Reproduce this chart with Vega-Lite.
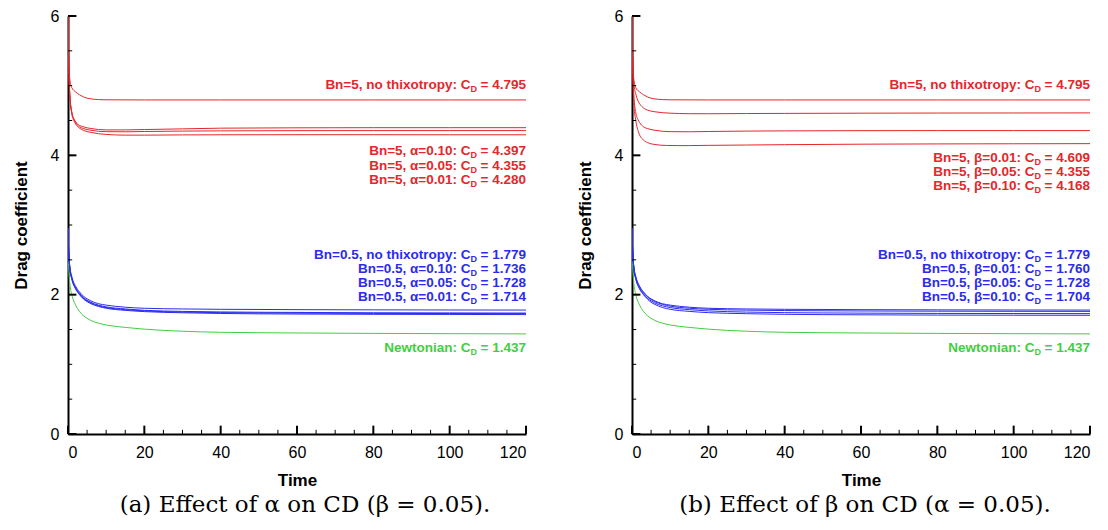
{
  "$schema": "https://vega.github.io/schema/vega-lite/v6.json",
  "background": "white",
  "padding": {"left": 12, "top": 8, "right": 0, "bottom": 0},
  "bounds": "flush",
  "spacing": 106,
  "config": {
    "view": {"stroke": null},
    "axis": {"ticks": false, "grid": false, "domainColor": "black", "domainWidth": 2, "labelColor": "black", "titleColor": "black",
      "labelFont": "Liberation Sans", "labelFontSize": 16, "titleFont": "Liberation Sans", "titleFontSize": 17, "titleFontWeight": "bold", "labelOverlap": false}
  },
  "datasets": {
    "xmajor": [{"t":0},{"t":20},{"t":40},{"t":60},{"t":80},{"t":100},{"t":120}],
    "xminor": [{"t":5},{"t":10},{"t":15},{"t":25},{"t":30},{"t":35},{"t":45},{"t":50},{"t":55},{"t":65},{"t":70},{"t":75},{"t":85},{"t":90},{"t":95},{"t":105},{"t":110},{"t":115}],
    "ymajor": [{"v":0},{"v":2},{"v":4},{"v":6}],
    "yminor": [{"v":0.5},{"v":1},{"v":1.5},{"v":2.5},{"v":3},{"v":3.5},{"v":4.5},{"v":5},{"v":5.5}],
    "curves": [
      {"s":"r0","k":"Bn=5","t":0,"v":6},{"s":"r0","k":"Bn=5","t":0.2,"v":5.4},{"s":"r0","k":"Bn=5","t":0.5,"v":5.08},{"s":"r0","k":"Bn=5","t":1,"v":4.97},{"s":"r0","k":"Bn=5","t":2,"v":4.91},{"s":"r0","k":"Bn=5","t":3,"v":4.87},{"s":"r0","k":"Bn=5","t":4,"v":4.84},{"s":"r0","k":"Bn=5","t":5,"v":4.82},{"s":"r0","k":"Bn=5","t":6,"v":4.81},{"s":"r0","k":"Bn=5","t":8,"v":4.8},{"s":"r0","k":"Bn=5","t":10,"v":4.797},{"s":"r0","k":"Bn=5","t":20,"v":4.795},{"s":"r0","k":"Bn=5","t":40,"v":4.795},{"s":"r0","k":"Bn=5","t":60,"v":4.795},{"s":"r0","k":"Bn=5","t":80,"v":4.795},{"s":"r0","k":"Bn=5","t":100,"v":4.795},{"s":"r0","k":"Bn=5","t":120,"v":4.795},

      {"s":"b0","k":"Bn=0.5","t":0,"v":2.95},{"s":"b0","k":"Bn=0.5","t":0.2,"v":2.6},{"s":"b0","k":"Bn=0.5","t":0.5,"v":2.4},{"s":"b0","k":"Bn=0.5","t":1,"v":2.26},{"s":"b0","k":"Bn=0.5","t":2,"v":2.12},{"s":"b0","k":"Bn=0.5","t":3,"v":2.04},{"s":"b0","k":"Bn=0.5","t":4,"v":1.98},{"s":"b0","k":"Bn=0.5","t":5,"v":1.94},{"s":"b0","k":"Bn=0.5","t":6,"v":1.91},{"s":"b0","k":"Bn=0.5","t":8,"v":1.87},{"s":"b0","k":"Bn=0.5","t":10,"v":1.85},{"s":"b0","k":"Bn=0.5","t":15,"v":1.82},{"s":"b0","k":"Bn=0.5","t":20,"v":1.805},{"s":"b0","k":"Bn=0.5","t":30,"v":1.795},{"s":"b0","k":"Bn=0.5","t":40,"v":1.79},{"s":"b0","k":"Bn=0.5","t":60,"v":1.785},{"s":"b0","k":"Bn=0.5","t":80,"v":1.782},{"s":"b0","k":"Bn=0.5","t":100,"v":1.78},{"s":"b0","k":"Bn=0.5","t":120,"v":1.779},

      {"s":"g","k":"Newtonian","t":0,"v":2.62},{"s":"g","k":"Newtonian","t":0.2,"v":2.35},{"s":"g","k":"Newtonian","t":0.5,"v":2.15},{"s":"g","k":"Newtonian","t":1,"v":2.0},{"s":"g","k":"Newtonian","t":2,"v":1.85},{"s":"g","k":"Newtonian","t":3,"v":1.76},{"s":"g","k":"Newtonian","t":4,"v":1.7},{"s":"g","k":"Newtonian","t":5,"v":1.66},{"s":"g","k":"Newtonian","t":6,"v":1.63},{"s":"g","k":"Newtonian","t":8,"v":1.59},{"s":"g","k":"Newtonian","t":10,"v":1.565},{"s":"g","k":"Newtonian","t":15,"v":1.53},{"s":"g","k":"Newtonian","t":20,"v":1.505},{"s":"g","k":"Newtonian","t":30,"v":1.475},{"s":"g","k":"Newtonian","t":40,"v":1.46},{"s":"g","k":"Newtonian","t":60,"v":1.45},{"s":"g","k":"Newtonian","t":80,"v":1.444},{"s":"g","k":"Newtonian","t":100,"v":1.44},{"s":"g","k":"Newtonian","t":120,"v":1.437},

      {"s":"ra10","k":"Bn=5","t":0,"v":6},{"s":"ra10","k":"Bn=5","t":0.2,"v":5.3},{"s":"ra10","k":"Bn=5","t":0.5,"v":4.85},{"s":"ra10","k":"Bn=5","t":1,"v":4.62},{"s":"ra10","k":"Bn=5","t":1.6,"v":4.52},{"s":"ra10","k":"Bn=5","t":2,"v":4.48},{"s":"ra10","k":"Bn=5","t":3,"v":4.43},{"s":"ra10","k":"Bn=5","t":4,"v":4.41},{"s":"ra10","k":"Bn=5","t":5,"v":4.395},{"s":"ra10","k":"Bn=5","t":6,"v":4.385},{"s":"ra10","k":"Bn=5","t":8,"v":4.37},{"s":"ra10","k":"Bn=5","t":10,"v":4.365},{"s":"ra10","k":"Bn=5","t":15,"v":4.365},{"s":"ra10","k":"Bn=5","t":20,"v":4.37},{"s":"ra10","k":"Bn=5","t":30,"v":4.38},{"s":"ra10","k":"Bn=5","t":40,"v":4.39},{"s":"ra10","k":"Bn=5","t":60,"v":4.395},{"s":"ra10","k":"Bn=5","t":80,"v":4.397},{"s":"ra10","k":"Bn=5","t":100,"v":4.397},{"s":"ra10","k":"Bn=5","t":120,"v":4.397},

      {"s":"r05","k":"Bn=5","t":0,"v":6},{"s":"r05","k":"Bn=5","t":0.2,"v":5.3},{"s":"r05","k":"Bn=5","t":0.5,"v":4.85},{"s":"r05","k":"Bn=5","t":1,"v":4.61},{"s":"r05","k":"Bn=5","t":1.6,"v":4.51},{"s":"r05","k":"Bn=5","t":2,"v":4.47},{"s":"r05","k":"Bn=5","t":3,"v":4.41},{"s":"r05","k":"Bn=5","t":4,"v":4.385},{"s":"r05","k":"Bn=5","t":5,"v":4.37},{"s":"r05","k":"Bn=5","t":6,"v":4.36},{"s":"r05","k":"Bn=5","t":8,"v":4.345},{"s":"r05","k":"Bn=5","t":10,"v":4.34},{"s":"r05","k":"Bn=5","t":15,"v":4.338},{"s":"r05","k":"Bn=5","t":20,"v":4.342},{"s":"r05","k":"Bn=5","t":30,"v":4.348},{"s":"r05","k":"Bn=5","t":40,"v":4.351},{"s":"r05","k":"Bn=5","t":60,"v":4.354},{"s":"r05","k":"Bn=5","t":80,"v":4.355},{"s":"r05","k":"Bn=5","t":100,"v":4.355},{"s":"r05","k":"Bn=5","t":120,"v":4.355},

      {"s":"ra01","k":"Bn=5","t":0,"v":6},{"s":"ra01","k":"Bn=5","t":0.2,"v":5.3},{"s":"ra01","k":"Bn=5","t":0.5,"v":4.84},{"s":"ra01","k":"Bn=5","t":1,"v":4.6},{"s":"ra01","k":"Bn=5","t":1.6,"v":4.49},{"s":"ra01","k":"Bn=5","t":2,"v":4.45},{"s":"ra01","k":"Bn=5","t":3,"v":4.39},{"s":"ra01","k":"Bn=5","t":4,"v":4.36},{"s":"ra01","k":"Bn=5","t":5,"v":4.34},{"s":"ra01","k":"Bn=5","t":6,"v":4.33},{"s":"ra01","k":"Bn=5","t":8,"v":4.31},{"s":"ra01","k":"Bn=5","t":10,"v":4.3},{"s":"ra01","k":"Bn=5","t":15,"v":4.29},{"s":"ra01","k":"Bn=5","t":20,"v":4.29},{"s":"ra01","k":"Bn=5","t":30,"v":4.293},{"s":"ra01","k":"Bn=5","t":40,"v":4.295},{"s":"ra01","k":"Bn=5","t":60,"v":4.296},{"s":"ra01","k":"Bn=5","t":80,"v":4.296},{"s":"ra01","k":"Bn=5","t":100,"v":4.295},{"s":"ra01","k":"Bn=5","t":120,"v":4.295},

      {"s":"ba10","k":"Bn=0.5","t":0,"v":2.95},{"s":"ba10","k":"Bn=0.5","t":0.2,"v":2.6},{"s":"ba10","k":"Bn=0.5","t":0.5,"v":2.38},{"s":"ba10","k":"Bn=0.5","t":1,"v":2.24},{"s":"ba10","k":"Bn=0.5","t":2,"v":2.1},{"s":"ba10","k":"Bn=0.5","t":3,"v":2.02},{"s":"ba10","k":"Bn=0.5","t":4,"v":1.96},{"s":"ba10","k":"Bn=0.5","t":5,"v":1.92},{"s":"ba10","k":"Bn=0.5","t":6,"v":1.89},{"s":"ba10","k":"Bn=0.5","t":8,"v":1.85},{"s":"ba10","k":"Bn=0.5","t":10,"v":1.825},{"s":"ba10","k":"Bn=0.5","t":15,"v":1.795},{"s":"ba10","k":"Bn=0.5","t":20,"v":1.775},{"s":"ba10","k":"Bn=0.5","t":30,"v":1.76},{"s":"ba10","k":"Bn=0.5","t":40,"v":1.752},{"s":"ba10","k":"Bn=0.5","t":60,"v":1.745},{"s":"ba10","k":"Bn=0.5","t":80,"v":1.74},{"s":"ba10","k":"Bn=0.5","t":100,"v":1.738},{"s":"ba10","k":"Bn=0.5","t":120,"v":1.736},

      {"s":"b05","k":"Bn=0.5","t":0,"v":2.95},{"s":"b05","k":"Bn=0.5","t":0.2,"v":2.6},{"s":"b05","k":"Bn=0.5","t":0.5,"v":2.37},{"s":"b05","k":"Bn=0.5","t":1,"v":2.23},{"s":"b05","k":"Bn=0.5","t":2,"v":2.09},{"s":"b05","k":"Bn=0.5","t":3,"v":2.01},{"s":"b05","k":"Bn=0.5","t":4,"v":1.95},{"s":"b05","k":"Bn=0.5","t":5,"v":1.91},{"s":"b05","k":"Bn=0.5","t":6,"v":1.88},{"s":"b05","k":"Bn=0.5","t":8,"v":1.84},{"s":"b05","k":"Bn=0.5","t":10,"v":1.815},{"s":"b05","k":"Bn=0.5","t":15,"v":1.785},{"s":"b05","k":"Bn=0.5","t":20,"v":1.767},{"s":"b05","k":"Bn=0.5","t":30,"v":1.75},{"s":"b05","k":"Bn=0.5","t":40,"v":1.742},{"s":"b05","k":"Bn=0.5","t":60,"v":1.735},{"s":"b05","k":"Bn=0.5","t":80,"v":1.731},{"s":"b05","k":"Bn=0.5","t":100,"v":1.729},{"s":"b05","k":"Bn=0.5","t":120,"v":1.728},

      {"s":"ba01","k":"Bn=0.5","t":0,"v":2.95},{"s":"ba01","k":"Bn=0.5","t":0.2,"v":2.6},{"s":"ba01","k":"Bn=0.5","t":0.5,"v":2.36},{"s":"ba01","k":"Bn=0.5","t":1,"v":2.22},{"s":"ba01","k":"Bn=0.5","t":2,"v":2.08},{"s":"ba01","k":"Bn=0.5","t":3,"v":2.0},{"s":"ba01","k":"Bn=0.5","t":4,"v":1.94},{"s":"ba01","k":"Bn=0.5","t":5,"v":1.9},{"s":"ba01","k":"Bn=0.5","t":6,"v":1.87},{"s":"ba01","k":"Bn=0.5","t":8,"v":1.83},{"s":"ba01","k":"Bn=0.5","t":10,"v":1.805},{"s":"ba01","k":"Bn=0.5","t":15,"v":1.775},{"s":"ba01","k":"Bn=0.5","t":20,"v":1.757},{"s":"ba01","k":"Bn=0.5","t":30,"v":1.74},{"s":"ba01","k":"Bn=0.5","t":40,"v":1.73},{"s":"ba01","k":"Bn=0.5","t":60,"v":1.722},{"s":"ba01","k":"Bn=0.5","t":80,"v":1.718},{"s":"ba01","k":"Bn=0.5","t":100,"v":1.716},{"s":"ba01","k":"Bn=0.5","t":120,"v":1.714},

      {"s":"rb01","k":"Bn=5","t":0,"v":6},{"s":"rb01","k":"Bn=5","t":0.2,"v":5.4},{"s":"rb01","k":"Bn=5","t":0.5,"v":5.02},{"s":"rb01","k":"Bn=5","t":1,"v":4.88},{"s":"rb01","k":"Bn=5","t":2,"v":4.74},{"s":"rb01","k":"Bn=5","t":2.6,"v":4.7},{"s":"rb01","k":"Bn=5","t":4,"v":4.65},{"s":"rb01","k":"Bn=5","t":5,"v":4.635},{"s":"rb01","k":"Bn=5","t":6,"v":4.625},{"s":"rb01","k":"Bn=5","t":8,"v":4.612},{"s":"rb01","k":"Bn=5","t":10,"v":4.605},{"s":"rb01","k":"Bn=5","t":15,"v":4.598},{"s":"rb01","k":"Bn=5","t":20,"v":4.597},{"s":"rb01","k":"Bn=5","t":30,"v":4.6},{"s":"rb01","k":"Bn=5","t":40,"v":4.602},{"s":"rb01","k":"Bn=5","t":60,"v":4.605},{"s":"rb01","k":"Bn=5","t":80,"v":4.607},{"s":"rb01","k":"Bn=5","t":100,"v":4.608},{"s":"rb01","k":"Bn=5","t":120,"v":4.609},

      {"s":"rb10","k":"Bn=5","t":0,"v":6},{"s":"rb10","k":"Bn=5","t":0.2,"v":5.2},{"s":"rb10","k":"Bn=5","t":0.5,"v":4.72},{"s":"rb10","k":"Bn=5","t":1,"v":4.5},{"s":"rb10","k":"Bn=5","t":1.8,"v":4.32},{"s":"rb10","k":"Bn=5","t":3,"v":4.22},{"s":"rb10","k":"Bn=5","t":4,"v":4.185},{"s":"rb10","k":"Bn=5","t":5,"v":4.165},{"s":"rb10","k":"Bn=5","t":6,"v":4.155},{"s":"rb10","k":"Bn=5","t":9,"v":4.142},{"s":"rb10","k":"Bn=5","t":12,"v":4.14},{"s":"rb10","k":"Bn=5","t":15,"v":4.14},{"s":"rb10","k":"Bn=5","t":20,"v":4.143},{"s":"rb10","k":"Bn=5","t":30,"v":4.148},{"s":"rb10","k":"Bn=5","t":40,"v":4.153},{"s":"rb10","k":"Bn=5","t":60,"v":4.16},{"s":"rb10","k":"Bn=5","t":80,"v":4.164},{"s":"rb10","k":"Bn=5","t":100,"v":4.166},{"s":"rb10","k":"Bn=5","t":120,"v":4.168},

      {"s":"bb01","k":"Bn=0.5","t":0,"v":2.95},{"s":"bb01","k":"Bn=0.5","t":0.2,"v":2.6},{"s":"bb01","k":"Bn=0.5","t":0.5,"v":2.39},{"s":"bb01","k":"Bn=0.5","t":1,"v":2.25},{"s":"bb01","k":"Bn=0.5","t":2,"v":2.11},{"s":"bb01","k":"Bn=0.5","t":3,"v":2.03},{"s":"bb01","k":"Bn=0.5","t":4,"v":1.97},{"s":"bb01","k":"Bn=0.5","t":5,"v":1.93},{"s":"bb01","k":"Bn=0.5","t":6,"v":1.9},{"s":"bb01","k":"Bn=0.5","t":8,"v":1.86},{"s":"bb01","k":"Bn=0.5","t":10,"v":1.835},{"s":"bb01","k":"Bn=0.5","t":15,"v":1.805},{"s":"bb01","k":"Bn=0.5","t":20,"v":1.79},{"s":"bb01","k":"Bn=0.5","t":30,"v":1.778},{"s":"bb01","k":"Bn=0.5","t":40,"v":1.772},{"s":"bb01","k":"Bn=0.5","t":60,"v":1.766},{"s":"bb01","k":"Bn=0.5","t":80,"v":1.763},{"s":"bb01","k":"Bn=0.5","t":100,"v":1.761},{"s":"bb01","k":"Bn=0.5","t":120,"v":1.76},

      {"s":"bb10","k":"Bn=0.5","t":0,"v":2.95},{"s":"bb10","k":"Bn=0.5","t":0.2,"v":2.58},{"s":"bb10","k":"Bn=0.5","t":0.5,"v":2.36},{"s":"bb10","k":"Bn=0.5","t":1,"v":2.22},{"s":"bb10","k":"Bn=0.5","t":2,"v":2.08},{"s":"bb10","k":"Bn=0.5","t":3,"v":2.0},{"s":"bb10","k":"Bn=0.5","t":4,"v":1.94},{"s":"bb10","k":"Bn=0.5","t":5,"v":1.89},{"s":"bb10","k":"Bn=0.5","t":6,"v":1.86},{"s":"bb10","k":"Bn=0.5","t":8,"v":1.815},{"s":"bb10","k":"Bn=0.5","t":10,"v":1.79},{"s":"bb10","k":"Bn=0.5","t":15,"v":1.76},{"s":"bb10","k":"Bn=0.5","t":20,"v":1.742},{"s":"bb10","k":"Bn=0.5","t":30,"v":1.727},{"s":"bb10","k":"Bn=0.5","t":40,"v":1.718},{"s":"bb10","k":"Bn=0.5","t":60,"v":1.711},{"s":"bb10","k":"Bn=0.5","t":80,"v":1.707},{"s":"bb10","k":"Bn=0.5","t":100,"v":1.705},{"s":"bb10","k":"Bn=0.5","t":120,"v":1.704}
    ],
    "labA": [
      {"k":"Bn=5","pre":"Bn=5, no thixotropy: C","post":" = 4.795","v":5.015},
      {"k":"Bn=5","pre":"Bn=5, α=0.10: C","post":" = 4.397","v":4.06},
      {"k":"Bn=5","pre":"Bn=5, α=0.05: C","post":" = 4.355","v":3.845},
      {"k":"Bn=5","pre":"Bn=5, α=0.01: C","post":" = 4.280","v":3.64},
      {"k":"Bn=0.5","pre":"Bn=0.5, no thixotropy: C","post":" = 1.779","v":2.575},
      {"k":"Bn=0.5","pre":"Bn=0.5, α=0.10: C","post":" = 1.736","v":2.37},
      {"k":"Bn=0.5","pre":"Bn=0.5, α=0.05: C","post":" = 1.728","v":2.165},
      {"k":"Bn=0.5","pre":"Bn=0.5, α=0.01: C","post":" = 1.714","v":1.96},
      {"k":"Newtonian","pre":"Newtonian: C","post":" = 1.437","v":1.235}
    ],
    "labB": [
      {"k":"Bn=5","pre":"Bn=5, no thixotropy: C","post":" = 4.795","v":5.015},
      {"k":"Bn=5","pre":"Bn=5, β=0.01: C","post":" = 4.609","v":3.963},
      {"k":"Bn=5","pre":"Bn=5, β=0.05: C","post":" = 4.355","v":3.758},
      {"k":"Bn=5","pre":"Bn=5, β=0.10: C","post":" = 4.168","v":3.555},
      {"k":"Bn=0.5","pre":"Bn=0.5, no thixotropy: C","post":" = 1.779","v":2.575},
      {"k":"Bn=0.5","pre":"Bn=0.5, β=0.01: C","post":" = 1.760","v":2.37},
      {"k":"Bn=0.5","pre":"Bn=0.5, β=0.05: C","post":" = 1.728","v":2.165},
      {"k":"Bn=0.5","pre":"Bn=0.5, β=0.10: C","post":" = 1.704","v":1.96},
      {"k":"Newtonian","pre":"Newtonian: C","post":" = 1.437","v":1.235}
    ]
  },
  "hconcat": [
    {
      "width": 458,
      "height": 418,
      "title": {"text": "(a)  Effect of α on CD (β = 0.05).", "orient": "bottom", "anchor": "middle", "dx": 8, "font": "DejaVu Serif", "fontSize": 23, "fontWeight": "normal", "color": "black", "offset": 6},
      "resolve": {"axis": {"x": "independent", "y": "independent"}},
      "layer": [
        {
          "data": {"name": "curves"},
          "transform": [{"filter": {"field": "s", "oneOf": ["r0","ra10","r05","ra01","b0","ba10","b05","ba01","g"]}}],
          "mark": {"type": "line", "interpolate": "monotone", "strokeWidth": 1, "clip": true},
          "encoding": {
            "x": {"field": "t", "type": "quantitative", "title": "Time",
              "scale": {"domain": [0, 120], "nice": false, "zero": false},
              "axis": {"orient": "bottom", "values": [0,20,40,60,80,100,120], "labelPadding": 10, "titlePadding": 12}},
            "y": {"field": "v", "type": "quantitative", "title": "Drag coefficient",
              "scale": {"domain": [0, 6], "nice": false},
              "axis": {"orient": "left", "values": [0,2,4,6], "labelPadding": 9, "titlePadding": 20}},
            "color": {"field": "k", "type": "nominal", "legend": null,
              "scale": {"domain": ["Bn=5", "Bn=0.5", "Newtonian"], "range": ["#e5262b", "#2b2bef", "#3fcf3f"]}},
            "detail": {"field": "s"}
          }
        },
        {
          "data": {"name": "xmajor"},
          "mark": {"type": "rule", "color": "black", "strokeWidth": 2},
          "encoding": {"x": {"field": "t", "type": "quantitative", "axis": null}, "y": {"datum": 0, "type": "quantitative", "axis": null}, "y2": {"datum": 0.12}}
        },
        {
          "data": {"name": "xminor"},
          "mark": {"type": "rule", "color": "black", "strokeWidth": 1},
          "encoding": {"x": {"field": "t", "type": "quantitative", "axis": null}, "y": {"datum": 0, "type": "quantitative", "axis": null}, "y2": {"datum": 0.06}}
        },
        {
          "data": {"name": "ymajor"},
          "mark": {"type": "rule", "color": "black", "strokeWidth": 2},
          "encoding": {"y": {"field": "v", "type": "quantitative", "axis": null}, "x": {"datum": 0, "type": "quantitative", "axis": null}, "x2": {"datum": 2.2}}
        },
        {
          "data": {"name": "yminor"},
          "mark": {"type": "rule", "color": "black", "strokeWidth": 1},
          "encoding": {"y": {"field": "v", "type": "quantitative", "axis": null}, "x": {"datum": 0, "type": "quantitative", "axis": null}, "x2": {"datum": 1.1}}
        },
        {
          "data": {"name": "labA"},
          "mark": {"type": "text", "align": "right", "baseline": "middle", "dx": -55.5, "font": "Liberation Sans", "fontWeight": "bold", "fontSize": 13.5},
          "encoding": {
            "x": {"datum": 120, "type": "quantitative", "axis": null},
            "y": {"field": "v", "type": "quantitative", "axis": null},
            "text": {"field": "pre"},
            "color": {"field": "k", "type": "nominal", "legend": null}
          }
        },
        {
          "data": {"name": "labA"},
          "mark": {"type": "text", "align": "right", "baseline": "middle", "dx": -49, "dy": 4, "text": "D", "font": "Liberation Sans", "fontWeight": "bold", "fontSize": 9},
          "encoding": {
            "x": {"datum": 120, "type": "quantitative", "axis": null},
            "y": {"field": "v", "type": "quantitative", "axis": null},
            "color": {"field": "k", "type": "nominal", "legend": null}
          }
        },
        {
          "data": {"name": "labA"},
          "mark": {"type": "text", "align": "right", "baseline": "middle", "font": "Liberation Sans", "fontWeight": "bold", "fontSize": 13.5},
          "encoding": {
            "x": {"datum": 120, "type": "quantitative", "axis": null},
            "y": {"field": "v", "type": "quantitative", "axis": null},
            "text": {"field": "post"},
            "color": {"field": "k", "type": "nominal", "legend": null}
          }
        }
      ]
    },
    {
      "width": 458,
      "height": 418,
      "title": {"text": "(b)  Effect of β on CD (α = 0.05).", "orient": "bottom", "anchor": "middle", "dx": 4, "font": "DejaVu Serif", "fontSize": 23, "fontWeight": "normal", "color": "black", "offset": 6},
      "resolve": {"axis": {"x": "independent", "y": "independent"}},
      "layer": [
        {
          "data": {"name": "curves"},
          "transform": [{"filter": {"field": "s", "oneOf": ["r0","rb01","r05","rb10","b0","bb01","b05","bb10","g"]}}],
          "mark": {"type": "line", "interpolate": "monotone", "strokeWidth": 1, "clip": true},
          "encoding": {
            "x": {"field": "t", "type": "quantitative", "title": "Time",
              "scale": {"domain": [0, 120], "nice": false, "zero": false},
              "axis": {"orient": "bottom", "values": [0,20,40,60,80,100,120], "labelPadding": 10, "titlePadding": 12}},
            "y": {"field": "v", "type": "quantitative", "title": "Drag coefficient",
              "scale": {"domain": [0, 6], "nice": false},
              "axis": {"orient": "left", "values": [0,2,4,6], "labelPadding": 9, "titlePadding": 20}},
            "color": {"field": "k", "type": "nominal", "legend": null,
              "scale": {"domain": ["Bn=5", "Bn=0.5", "Newtonian"], "range": ["#e5262b", "#2b2bef", "#3fcf3f"]}},
            "detail": {"field": "s"}
          }
        },
        {
          "data": {"name": "xmajor"},
          "mark": {"type": "rule", "color": "black", "strokeWidth": 2},
          "encoding": {"x": {"field": "t", "type": "quantitative", "axis": null}, "y": {"datum": 0, "type": "quantitative", "axis": null}, "y2": {"datum": 0.12}}
        },
        {
          "data": {"name": "xminor"},
          "mark": {"type": "rule", "color": "black", "strokeWidth": 1},
          "encoding": {"x": {"field": "t", "type": "quantitative", "axis": null}, "y": {"datum": 0, "type": "quantitative", "axis": null}, "y2": {"datum": 0.06}}
        },
        {
          "data": {"name": "ymajor"},
          "mark": {"type": "rule", "color": "black", "strokeWidth": 2},
          "encoding": {"y": {"field": "v", "type": "quantitative", "axis": null}, "x": {"datum": 0, "type": "quantitative", "axis": null}, "x2": {"datum": 2.2}}
        },
        {
          "data": {"name": "yminor"},
          "mark": {"type": "rule", "color": "black", "strokeWidth": 1},
          "encoding": {"y": {"field": "v", "type": "quantitative", "axis": null}, "x": {"datum": 0, "type": "quantitative", "axis": null}, "x2": {"datum": 1.1}}
        },
        {
          "data": {"name": "labB"},
          "mark": {"type": "text", "align": "right", "baseline": "middle", "dx": -55.5, "font": "Liberation Sans", "fontWeight": "bold", "fontSize": 13.5},
          "encoding": {
            "x": {"datum": 120, "type": "quantitative", "axis": null},
            "y": {"field": "v", "type": "quantitative", "axis": null},
            "text": {"field": "pre"},
            "color": {"field": "k", "type": "nominal", "legend": null}
          }
        },
        {
          "data": {"name": "labB"},
          "mark": {"type": "text", "align": "right", "baseline": "middle", "dx": -49, "dy": 4, "text": "D", "font": "Liberation Sans", "fontWeight": "bold", "fontSize": 9},
          "encoding": {
            "x": {"datum": 120, "type": "quantitative", "axis": null},
            "y": {"field": "v", "type": "quantitative", "axis": null},
            "color": {"field": "k", "type": "nominal", "legend": null}
          }
        },
        {
          "data": {"name": "labB"},
          "mark": {"type": "text", "align": "right", "baseline": "middle", "font": "Liberation Sans", "fontWeight": "bold", "fontSize": 13.5},
          "encoding": {
            "x": {"datum": 120, "type": "quantitative", "axis": null},
            "y": {"field": "v", "type": "quantitative", "axis": null},
            "text": {"field": "post"},
            "color": {"field": "k", "type": "nominal", "legend": null}
          }
        }
      ]
    }
  ]
}
